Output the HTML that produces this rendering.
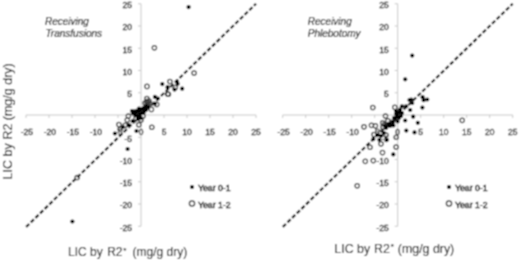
<!DOCTYPE html>
<html><head><meta charset="utf-8"><style>
html,body{margin:0;padding:0;background:#fff;width:520px;height:261px;overflow:hidden}
svg{display:block;font-family:"Liberation Sans",sans-serif;}
.tk{font-size:8.5px;fill:#1e1e1e;stroke:#1e1e1e;stroke-width:0.3px}
.it{font-size:10px;font-style:italic;fill:#222;stroke:#222;stroke-width:0.2px}
.lg{font-size:8.7px;fill:#111;stroke:#111;stroke-width:0.45px}
.ti{font-size:12px;fill:#1a1a1a;stroke:#1a1a1a;stroke-width:0.12px}
</style></head><body>
<svg width="520" height="261" viewBox="0 0 520 261">
<defs><filter id="b" x="0" y="0" width="520" height="261" filterUnits="userSpaceOnUse"><feConvolveMatrix order="3" kernelMatrix="1 2 1 2 4 2 1 2 1" edgeMode="duplicate"/></filter></defs>
<g filter="url(#b)">
<rect width="520" height="261" fill="#fff"/>
<line x1="26.00" y1="115.0" x2="256.00" y2="115.0" stroke="#c8c8c8" stroke-width="1"/>
<line x1="141.00" y1="3.75" x2="141.00" y2="226.25" stroke="#c8c8c8" stroke-width="1"/>
<line x1="26.00" y1="115.0" x2="26.00" y2="118.0" stroke="#c8c8c8" stroke-width="1"/>
<line x1="138.00" y1="226.25" x2="141.00" y2="226.25" stroke="#c8c8c8" stroke-width="1"/>
<line x1="49.00" y1="115.0" x2="49.00" y2="118.0" stroke="#c8c8c8" stroke-width="1"/>
<line x1="138.00" y1="204.00" x2="141.00" y2="204.00" stroke="#c8c8c8" stroke-width="1"/>
<line x1="72.00" y1="115.0" x2="72.00" y2="118.0" stroke="#c8c8c8" stroke-width="1"/>
<line x1="138.00" y1="181.75" x2="141.00" y2="181.75" stroke="#c8c8c8" stroke-width="1"/>
<line x1="95.00" y1="115.0" x2="95.00" y2="118.0" stroke="#c8c8c8" stroke-width="1"/>
<line x1="138.00" y1="159.50" x2="141.00" y2="159.50" stroke="#c8c8c8" stroke-width="1"/>
<line x1="118.00" y1="115.0" x2="118.00" y2="118.0" stroke="#c8c8c8" stroke-width="1"/>
<line x1="138.00" y1="137.25" x2="141.00" y2="137.25" stroke="#c8c8c8" stroke-width="1"/>
<line x1="141.00" y1="115.0" x2="141.00" y2="118.0" stroke="#c8c8c8" stroke-width="1"/>
<line x1="138.00" y1="115.00" x2="141.00" y2="115.00" stroke="#c8c8c8" stroke-width="1"/>
<line x1="164.00" y1="115.0" x2="164.00" y2="118.0" stroke="#c8c8c8" stroke-width="1"/>
<line x1="138.00" y1="92.75" x2="141.00" y2="92.75" stroke="#c8c8c8" stroke-width="1"/>
<line x1="187.00" y1="115.0" x2="187.00" y2="118.0" stroke="#c8c8c8" stroke-width="1"/>
<line x1="138.00" y1="70.50" x2="141.00" y2="70.50" stroke="#c8c8c8" stroke-width="1"/>
<line x1="210.00" y1="115.0" x2="210.00" y2="118.0" stroke="#c8c8c8" stroke-width="1"/>
<line x1="138.00" y1="48.25" x2="141.00" y2="48.25" stroke="#c8c8c8" stroke-width="1"/>
<line x1="233.00" y1="115.0" x2="233.00" y2="118.0" stroke="#c8c8c8" stroke-width="1"/>
<line x1="138.00" y1="26.00" x2="141.00" y2="26.00" stroke="#c8c8c8" stroke-width="1"/>
<line x1="256.00" y1="115.0" x2="256.00" y2="118.0" stroke="#c8c8c8" stroke-width="1"/>
<line x1="138.00" y1="3.75" x2="141.00" y2="3.75" stroke="#c8c8c8" stroke-width="1"/>
<text x="26.90" y="134.7" class="tk" text-anchor="middle">-25</text>
<text x="49.90" y="134.7" class="tk" text-anchor="middle">-20</text>
<text x="72.90" y="134.7" class="tk" text-anchor="middle">-15</text>
<text x="95.90" y="134.7" class="tk" text-anchor="middle">-10</text>
<text x="118.90" y="134.7" class="tk" text-anchor="middle">-5</text>
<text x="141.00" y="134.7" class="tk" text-anchor="middle">0</text>
<text x="164.00" y="134.7" class="tk" text-anchor="middle">5</text>
<text x="187.00" y="134.7" class="tk" text-anchor="middle">10</text>
<text x="210.00" y="134.7" class="tk" text-anchor="middle">15</text>
<text x="233.00" y="134.7" class="tk" text-anchor="middle">20</text>
<text x="256.00" y="134.7" class="tk" text-anchor="middle">25</text>
<text x="132.00" y="230.55" class="tk" text-anchor="end">-25</text>
<text x="132.00" y="208.30" class="tk" text-anchor="end">-20</text>
<text x="132.00" y="186.05" class="tk" text-anchor="end">-15</text>
<text x="132.00" y="163.80" class="tk" text-anchor="end">-10</text>
<text x="132.00" y="141.55" class="tk" text-anchor="end">-5</text>
<text x="132.00" y="97.05" class="tk" text-anchor="end">5</text>
<text x="132.00" y="74.80" class="tk" text-anchor="end">10</text>
<text x="132.00" y="52.55" class="tk" text-anchor="end">15</text>
<text x="132.00" y="30.30" class="tk" text-anchor="end">20</text>
<text x="132.00" y="8.05" class="tk" text-anchor="end">25</text>
<line x1="282.70" y1="115.0" x2="512.70" y2="115.0" stroke="#c8c8c8" stroke-width="1"/>
<line x1="397.70" y1="3.75" x2="397.70" y2="226.25" stroke="#c8c8c8" stroke-width="1"/>
<line x1="282.70" y1="115.0" x2="282.70" y2="118.0" stroke="#c8c8c8" stroke-width="1"/>
<line x1="394.70" y1="226.25" x2="397.70" y2="226.25" stroke="#c8c8c8" stroke-width="1"/>
<line x1="305.70" y1="115.0" x2="305.70" y2="118.0" stroke="#c8c8c8" stroke-width="1"/>
<line x1="394.70" y1="204.00" x2="397.70" y2="204.00" stroke="#c8c8c8" stroke-width="1"/>
<line x1="328.70" y1="115.0" x2="328.70" y2="118.0" stroke="#c8c8c8" stroke-width="1"/>
<line x1="394.70" y1="181.75" x2="397.70" y2="181.75" stroke="#c8c8c8" stroke-width="1"/>
<line x1="351.70" y1="115.0" x2="351.70" y2="118.0" stroke="#c8c8c8" stroke-width="1"/>
<line x1="394.70" y1="159.50" x2="397.70" y2="159.50" stroke="#c8c8c8" stroke-width="1"/>
<line x1="374.70" y1="115.0" x2="374.70" y2="118.0" stroke="#c8c8c8" stroke-width="1"/>
<line x1="394.70" y1="137.25" x2="397.70" y2="137.25" stroke="#c8c8c8" stroke-width="1"/>
<line x1="397.70" y1="115.0" x2="397.70" y2="118.0" stroke="#c8c8c8" stroke-width="1"/>
<line x1="394.70" y1="115.00" x2="397.70" y2="115.00" stroke="#c8c8c8" stroke-width="1"/>
<line x1="420.70" y1="115.0" x2="420.70" y2="118.0" stroke="#c8c8c8" stroke-width="1"/>
<line x1="394.70" y1="92.75" x2="397.70" y2="92.75" stroke="#c8c8c8" stroke-width="1"/>
<line x1="443.70" y1="115.0" x2="443.70" y2="118.0" stroke="#c8c8c8" stroke-width="1"/>
<line x1="394.70" y1="70.50" x2="397.70" y2="70.50" stroke="#c8c8c8" stroke-width="1"/>
<line x1="466.70" y1="115.0" x2="466.70" y2="118.0" stroke="#c8c8c8" stroke-width="1"/>
<line x1="394.70" y1="48.25" x2="397.70" y2="48.25" stroke="#c8c8c8" stroke-width="1"/>
<line x1="489.70" y1="115.0" x2="489.70" y2="118.0" stroke="#c8c8c8" stroke-width="1"/>
<line x1="394.70" y1="26.00" x2="397.70" y2="26.00" stroke="#c8c8c8" stroke-width="1"/>
<line x1="512.70" y1="115.0" x2="512.70" y2="118.0" stroke="#c8c8c8" stroke-width="1"/>
<line x1="394.70" y1="3.75" x2="397.70" y2="3.75" stroke="#c8c8c8" stroke-width="1"/>
<text x="283.60" y="134.7" class="tk" text-anchor="middle">-25</text>
<text x="306.60" y="134.7" class="tk" text-anchor="middle">-20</text>
<text x="329.60" y="134.7" class="tk" text-anchor="middle">-15</text>
<text x="352.60" y="134.7" class="tk" text-anchor="middle">-10</text>
<text x="375.60" y="134.7" class="tk" text-anchor="middle">-5</text>
<text x="397.70" y="134.7" class="tk" text-anchor="middle">0</text>
<text x="420.70" y="134.7" class="tk" text-anchor="middle">5</text>
<text x="443.70" y="134.7" class="tk" text-anchor="middle">10</text>
<text x="466.70" y="134.7" class="tk" text-anchor="middle">15</text>
<text x="489.70" y="134.7" class="tk" text-anchor="middle">20</text>
<text x="512.70" y="134.7" class="tk" text-anchor="middle">25</text>
<text x="388.70" y="230.55" class="tk" text-anchor="end">-25</text>
<text x="388.70" y="208.30" class="tk" text-anchor="end">-20</text>
<text x="388.70" y="186.05" class="tk" text-anchor="end">-15</text>
<text x="388.70" y="163.80" class="tk" text-anchor="end">-10</text>
<text x="388.70" y="141.55" class="tk" text-anchor="end">-5</text>
<text x="388.70" y="97.05" class="tk" text-anchor="end">5</text>
<text x="388.70" y="74.80" class="tk" text-anchor="end">10</text>
<text x="388.70" y="52.55" class="tk" text-anchor="end">15</text>
<text x="388.70" y="30.30" class="tk" text-anchor="end">20</text>
<text x="388.70" y="8.05" class="tk" text-anchor="end">25</text>
<line x1="26.00" y1="227.05" x2="256.00" y2="3.75" stroke="#000" stroke-width="2.2" stroke-dasharray="4.3 2.18" stroke-dashoffset="-0.2"/>
<line x1="282.70" y1="227.05" x2="512.70" y2="3.75" stroke="#000" stroke-width="2.2" stroke-dasharray="4.3 2.18" stroke-dashoffset="-0.2"/>
<circle cx="154.4" cy="47.7" r="2.2" fill="none" stroke="#3c3c3c" stroke-width="1.25"/>
<circle cx="194.1" cy="73.0" r="2.2" fill="none" stroke="#3c3c3c" stroke-width="1.25"/>
<circle cx="147.0" cy="86.4" r="2.2" fill="none" stroke="#3c3c3c" stroke-width="1.25"/>
<circle cx="169.9" cy="81.5" r="2.2" fill="none" stroke="#3c3c3c" stroke-width="1.25"/>
<circle cx="175.3" cy="87.6" r="2.2" fill="none" stroke="#3c3c3c" stroke-width="1.25"/>
<circle cx="168.4" cy="94.2" r="2.2" fill="none" stroke="#3c3c3c" stroke-width="1.25"/>
<circle cx="167.6" cy="94.0" r="2.2" fill="none" stroke="#3c3c3c" stroke-width="1.25"/>
<circle cx="146.9" cy="98.6" r="2.2" fill="none" stroke="#3c3c3c" stroke-width="1.25"/>
<circle cx="147.0" cy="102.0" r="2.2" fill="none" stroke="#3c3c3c" stroke-width="1.25"/>
<circle cx="147.5" cy="106.0" r="2.2" fill="none" stroke="#3c3c3c" stroke-width="1.25"/>
<circle cx="156.7" cy="104.4" r="2.2" fill="none" stroke="#3c3c3c" stroke-width="1.25"/>
<circle cx="151.4" cy="109.4" r="2.2" fill="none" stroke="#3c3c3c" stroke-width="1.25"/>
<circle cx="128.4" cy="116.1" r="2.2" fill="none" stroke="#3c3c3c" stroke-width="1.25"/>
<circle cx="127.3" cy="120.0" r="2.2" fill="none" stroke="#3c3c3c" stroke-width="1.25"/>
<circle cx="138.8" cy="124.7" r="2.2" fill="none" stroke="#3c3c3c" stroke-width="1.25"/>
<circle cx="151.8" cy="127.2" r="2.2" fill="none" stroke="#3c3c3c" stroke-width="1.25"/>
<circle cx="136.5" cy="111.5" r="2.2" fill="none" stroke="#3c3c3c" stroke-width="1.25"/>
<circle cx="118.9" cy="124.6" r="2.2" fill="none" stroke="#3c3c3c" stroke-width="1.25"/>
<circle cx="125.2" cy="125.2" r="2.2" fill="none" stroke="#3c3c3c" stroke-width="1.25"/>
<circle cx="120.1" cy="129.2" r="2.2" fill="none" stroke="#3c3c3c" stroke-width="1.25"/>
<circle cx="77.2" cy="177.5" r="2.2" fill="none" stroke="#3c3c3c" stroke-width="1.25"/>
<circle cx="148.0" cy="104.5" r="2.2" fill="none" stroke="#3c3c3c" stroke-width="1.25"/>
<circle cx="150.0" cy="103.5" r="2.2" fill="none" stroke="#3c3c3c" stroke-width="1.25"/>
<circle cx="145.0" cy="103.0" r="2.2" fill="none" stroke="#3c3c3c" stroke-width="1.25"/>
<circle cx="147.0" cy="101.5" r="2.2" fill="none" stroke="#3c3c3c" stroke-width="1.25"/>
<circle cx="149.0" cy="101.0" r="2.2" fill="none" stroke="#3c3c3c" stroke-width="1.25"/>
<circle cx="143.0" cy="116.0" r="2.2" fill="none" stroke="#3c3c3c" stroke-width="1.25"/>
<circle cx="136.0" cy="118.5" r="2.2" fill="none" stroke="#3c3c3c" stroke-width="1.25"/>
<circle cx="141.0" cy="120.0" r="2.2" fill="none" stroke="#3c3c3c" stroke-width="1.25"/>
<circle cx="188.6" cy="7.1" r="2.1" fill="#000"/>
<circle cx="72.4" cy="221.5" r="2.1" fill="#000"/>
<circle cx="162.3" cy="84.1" r="2.1" fill="#000"/>
<circle cx="176.8" cy="81.5" r="2.1" fill="#000"/>
<circle cx="177.6" cy="83.8" r="2.1" fill="#000"/>
<circle cx="167.6" cy="87.2" r="2.1" fill="#000"/>
<circle cx="174.5" cy="89.6" r="2.1" fill="#000"/>
<circle cx="182.2" cy="88.7" r="2.1" fill="#000"/>
<circle cx="154.9" cy="96.9" r="2.1" fill="#000"/>
<circle cx="157.8" cy="98.6" r="2.1" fill="#000"/>
<circle cx="154.9" cy="103.8" r="2.1" fill="#000"/>
<circle cx="132.0" cy="111.0" r="2.1" fill="#000"/>
<circle cx="134.0" cy="111.5" r="2.1" fill="#000"/>
<circle cx="136.0" cy="112.0" r="2.1" fill="#000"/>
<circle cx="138.0" cy="111.0" r="2.1" fill="#000"/>
<circle cx="140.0" cy="110.0" r="2.1" fill="#000"/>
<circle cx="142.0" cy="109.0" r="2.1" fill="#000"/>
<circle cx="144.0" cy="107.5" r="2.1" fill="#000"/>
<circle cx="146.0" cy="106.0" r="2.1" fill="#000"/>
<circle cx="135.0" cy="115.0" r="2.1" fill="#000"/>
<circle cx="137.0" cy="116.0" r="2.1" fill="#000"/>
<circle cx="139.0" cy="117.0" r="2.1" fill="#000"/>
<circle cx="141.0" cy="118.0" r="2.1" fill="#000"/>
<circle cx="138.0" cy="119.0" r="2.1" fill="#000"/>
<circle cx="140.0" cy="114.0" r="2.1" fill="#000"/>
<circle cx="142.0" cy="113.0" r="2.1" fill="#000"/>
<circle cx="144.0" cy="112.0" r="2.1" fill="#000"/>
<circle cx="146.0" cy="110.0" r="2.1" fill="#000"/>
<circle cx="133.0" cy="113.5" r="2.1" fill="#000"/>
<circle cx="139.0" cy="108.5" r="2.1" fill="#000"/>
<circle cx="145.0" cy="109.0" r="2.1" fill="#000"/>
<circle cx="148.0" cy="107.0" r="2.1" fill="#000"/>
<circle cx="123.0" cy="127.0" r="2.1" fill="#000"/>
<circle cx="128.7" cy="125.2" r="2.1" fill="#000"/>
<circle cx="132.7" cy="121.2" r="2.1" fill="#000"/>
<circle cx="114.9" cy="133.5" r="2.1" fill="#000"/>
<circle cx="127.6" cy="149.0" r="2.1" fill="#000"/>
<circle cx="136.5" cy="131.0" r="2.1" fill="#000"/>
<circle cx="372.8" cy="107.5" r="2.2" fill="none" stroke="#3c3c3c" stroke-width="1.25"/>
<circle cx="394.8" cy="107.3" r="2.2" fill="none" stroke="#3c3c3c" stroke-width="1.25"/>
<circle cx="385.5" cy="116.0" r="2.2" fill="none" stroke="#3c3c3c" stroke-width="1.25"/>
<circle cx="382.7" cy="122.8" r="2.2" fill="none" stroke="#3c3c3c" stroke-width="1.25"/>
<circle cx="388.0" cy="120.8" r="2.2" fill="none" stroke="#3c3c3c" stroke-width="1.25"/>
<circle cx="364.0" cy="126.8" r="2.2" fill="none" stroke="#3c3c3c" stroke-width="1.25"/>
<circle cx="371.5" cy="125.3" r="2.2" fill="none" stroke="#3c3c3c" stroke-width="1.25"/>
<circle cx="375.4" cy="125.8" r="2.2" fill="none" stroke="#3c3c3c" stroke-width="1.25"/>
<circle cx="384.5" cy="124.5" r="2.2" fill="none" stroke="#3c3c3c" stroke-width="1.25"/>
<circle cx="374.0" cy="134.5" r="2.2" fill="none" stroke="#3c3c3c" stroke-width="1.25"/>
<circle cx="380.7" cy="132.4" r="2.2" fill="none" stroke="#3c3c3c" stroke-width="1.25"/>
<circle cx="386.0" cy="135.1" r="2.2" fill="none" stroke="#3c3c3c" stroke-width="1.25"/>
<circle cx="396.2" cy="137.2" r="2.2" fill="none" stroke="#3c3c3c" stroke-width="1.25"/>
<circle cx="381.0" cy="143.8" r="2.2" fill="none" stroke="#3c3c3c" stroke-width="1.25"/>
<circle cx="396.1" cy="147.0" r="2.2" fill="none" stroke="#3c3c3c" stroke-width="1.25"/>
<circle cx="370.0" cy="147.2" r="2.2" fill="none" stroke="#3c3c3c" stroke-width="1.25"/>
<circle cx="382.5" cy="152.6" r="2.2" fill="none" stroke="#3c3c3c" stroke-width="1.25"/>
<circle cx="383.0" cy="127.0" r="2.2" fill="none" stroke="#3c3c3c" stroke-width="1.25"/>
<circle cx="387.0" cy="125.0" r="2.2" fill="none" stroke="#3c3c3c" stroke-width="1.25"/>
<circle cx="391.0" cy="123.0" r="2.2" fill="none" stroke="#3c3c3c" stroke-width="1.25"/>
<circle cx="365.3" cy="161.3" r="2.2" fill="none" stroke="#3c3c3c" stroke-width="1.25"/>
<circle cx="373.3" cy="160.6" r="2.2" fill="none" stroke="#3c3c3c" stroke-width="1.25"/>
<circle cx="357.2" cy="185.7" r="2.2" fill="none" stroke="#3c3c3c" stroke-width="1.25"/>
<circle cx="462.2" cy="120.3" r="2.2" fill="none" stroke="#3c3c3c" stroke-width="1.25"/>
<circle cx="412.2" cy="55.6" r="2.1" fill="#000"/>
<circle cx="405.2" cy="79.3" r="2.1" fill="#000"/>
<circle cx="411.1" cy="99.5" r="2.1" fill="#000"/>
<circle cx="409.5" cy="100.0" r="2.1" fill="#000"/>
<circle cx="412.2" cy="103.0" r="2.1" fill="#000"/>
<circle cx="422.6" cy="97.2" r="2.1" fill="#000"/>
<circle cx="423.7" cy="100.2" r="2.1" fill="#000"/>
<circle cx="427.2" cy="99.5" r="2.1" fill="#000"/>
<circle cx="422.4" cy="107.6" r="2.1" fill="#000"/>
<circle cx="410.2" cy="110.0" r="2.1" fill="#000"/>
<circle cx="402.0" cy="106.3" r="2.1" fill="#000"/>
<circle cx="406.1" cy="106.3" r="2.1" fill="#000"/>
<circle cx="413.2" cy="116.7" r="2.1" fill="#000"/>
<circle cx="417.8" cy="122.8" r="2.1" fill="#000"/>
<circle cx="405.2" cy="120.5" r="2.1" fill="#000"/>
<circle cx="406.3" cy="130.6" r="2.1" fill="#000"/>
<circle cx="414.5" cy="132.4" r="2.1" fill="#000"/>
<circle cx="393.3" cy="154.4" r="2.1" fill="#000"/>
<circle cx="373.4" cy="139.1" r="2.1" fill="#000"/>
<circle cx="379.4" cy="139.8" r="2.1" fill="#000"/>
<circle cx="377.4" cy="135.1" r="2.1" fill="#000"/>
<circle cx="386.8" cy="139.8" r="2.1" fill="#000"/>
<circle cx="396.0" cy="111.0" r="2.1" fill="#000"/>
<circle cx="398.0" cy="113.0" r="2.1" fill="#000"/>
<circle cx="400.0" cy="112.0" r="2.1" fill="#000"/>
<circle cx="397.0" cy="116.0" r="2.1" fill="#000"/>
<circle cx="399.0" cy="118.0" r="2.1" fill="#000"/>
<circle cx="401.0" cy="116.0" r="2.1" fill="#000"/>
<circle cx="395.0" cy="119.0" r="2.1" fill="#000"/>
<circle cx="397.5" cy="121.5" r="2.1" fill="#000"/>
<circle cx="396.0" cy="114.0" r="2.1" fill="#000"/>
<circle cx="400.0" cy="109.5" r="2.1" fill="#000"/>
<circle cx="385.0" cy="126.0" r="2.1" fill="#000"/>
<circle cx="389.0" cy="124.0" r="2.1" fill="#000"/>
<circle cx="393.0" cy="122.0" r="2.1" fill="#000"/>
<circle cx="386.0" cy="128.0" r="2.1" fill="#000"/>
<circle cx="390.0" cy="126.0" r="2.1" fill="#000"/>
<circle cx="392.0" cy="125.0" r="2.1" fill="#000"/>
<circle cx="393.4" cy="125.4" r="2.1" fill="#000"/>
<circle cx="381.0" cy="136.0" r="2.1" fill="#000"/>
<circle cx="384.0" cy="133.0" r="2.1" fill="#000"/>
<circle cx="394.0" cy="118.0" r="2.1" fill="#000"/>
<circle cx="402.0" cy="113.0" r="2.1" fill="#000"/>
<text x="45" y="24.5" class="it">Receiving</text>
<text x="45.5" y="36.5" class="it">Transfusions</text>
<text x="307.8" y="24.6" class="it">Receiving</text>
<text x="307.8" y="36.6" class="it">Phlebotomy</text>
<circle cx="192" cy="187" r="2.1" fill="#000"/>
<text x="198" y="191" class="lg">Year 0-1</text>
<circle cx="192" cy="203.5" r="2.6" fill="none" stroke="#333" stroke-width="1.4"/>
<text x="198" y="207.5" class="lg">Year 1-2</text>
<circle cx="449" cy="187" r="2.1" fill="#000"/>
<text x="455" y="191" class="lg">Year 0-1</text>
<circle cx="449" cy="203.5" r="2.6" fill="none" stroke="#333" stroke-width="1.4"/>
<text x="455" y="207.5" class="lg">Year 1-2</text>
<text y="256" class="ti"><tspan x="68">LIC by</tspan><tspan x="107.2">R2</tspan><tspan dx="0.8" dy="-3.5" font-size="8">*</tspan><tspan x="132.6" dy="3.5">(mg/g dry)</tspan></text>
<text y="252.5" class="ti" style="font-size:12.4px"><tspan x="334.3">LIC by</tspan><tspan x="374">R2</tspan><tspan dx="0.8" dy="-3.5" font-size="8">*</tspan><tspan x="397.8" dy="3.5">(mg/g dry)</tspan></text>
<text transform="translate(11.7,179.5) rotate(-90)" class="ti" style="font-size:12.5px"><tspan x="0">LIC by</tspan><tspan x="40">R2</tspan><tspan x="59.3">(mg/g dry)</tspan></text>
</g>
</svg>
</body></html>
